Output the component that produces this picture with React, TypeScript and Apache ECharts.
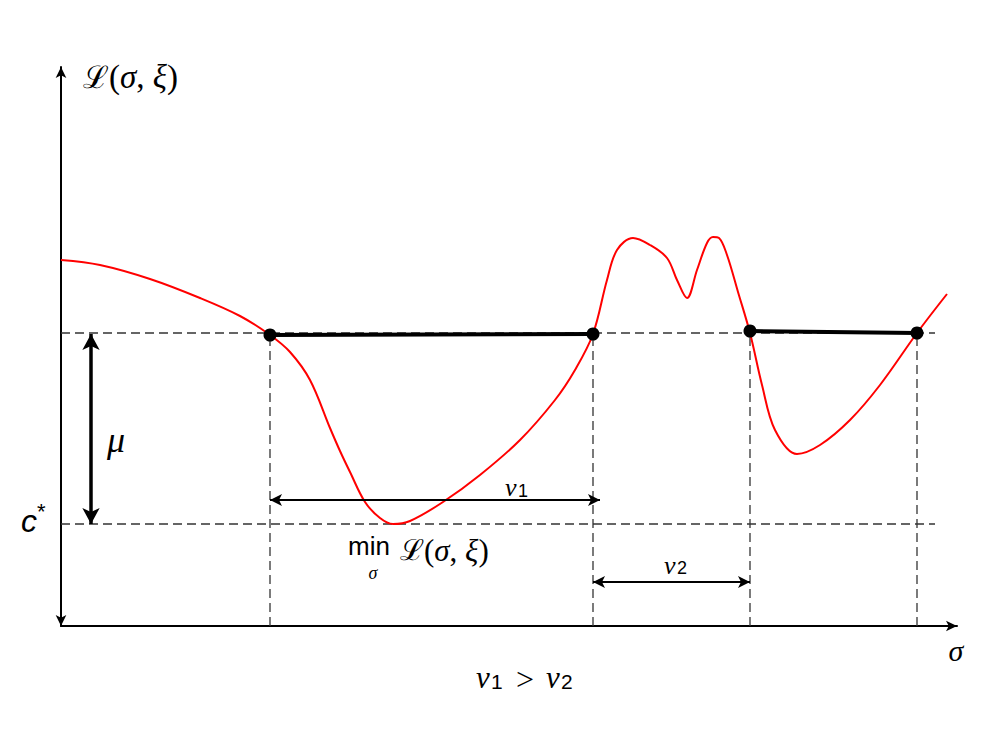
import React, { useEffect, useRef } from 'react';
import * as echarts from 'echarts';

// Data units: sigma along the horizontal axis, loss along the vertical axis
const curveSigma = [0, 39, 89, 139, 179, 209, 229, 249, 269, 279, 289, 304, 319, 332, 349, 382, 419, 459, 494, 514, 532, 546, 556, 572, 589, 606, 616, 626, 636, 646, 652, 658, 666, 677, 689, 701, 714, 736, 759, 789, 819, 856, 886];
const curveLoss = [366, 361, 347, 328, 310, 291, 274, 246, 198, 175, 154, 124, 108, 102, 105, 124, 151, 186, 226, 256, 292, 346, 376, 388, 381, 368, 346, 328, 356, 383, 389, 388, 371, 334, 293, 241, 196, 172, 181, 206, 241, 293, 332];

const levelUpper = 293;
const levelMin = 102;
const levelEnd = 874;
const crossingsSigma = [209, 532, 689, 856];
const crossingsLoss = [291, 292, 295, 293];
const muSigma = 30;
const nu1Span = [209, 539];
const nu1Loss = 126;
const nu2Span = [532, 689];
const nu2Loss = 44;
const xMax = 896;
const yMax = 559;

const serif = 'Liberation Serif, DejaVu Serif, serif';
const sans = 'Liberation Sans, Arial, sans-serif';

function txt(text: string, x: number, y: number, fontSize: number, family: string, italic: boolean, align = 'left') {
  return {
    type: 'text',
    x,
    y,
    z: 100,
    style: {
      text,
      fontSize,
      fontFamily: family,
      fontStyle: italic ? 'italic' : 'normal',
      fill: '#000',
      align,
      verticalAlign: 'middle',
    },
  };
}

function lossText(x: number, y: number, size: number) {
  return {
    type: 'text',
    x,
    y,
    z: 100,
    style: {
      text: '{L|ℒ}{p|(}{i|σ}{p|, }{i|ξ}{p|)}',
      fill: '#000',
      align: 'left',
      verticalAlign: 'middle',
      rich: {
        L: { fontFamily: 'DejaVu Serif, serif', fontSize: size - 2, fill: '#000' },
        p: { fontFamily: serif, fontSize: size, fill: '#000' },
        i: { fontFamily: serif, fontSize: size, fontStyle: 'italic', fill: '#000' },
      },
    },
  };
}

export default function App() {
  const ref = useRef<HTMLDivElement>(null);
  useEffect(() => {
    if (!ref.current) return;
    const chart = echarts.init(ref.current, null, { renderer: 'svg' });

    const dashed = { color: '#333', width: 1.3, type: [9, 5] as any };
    const dashSeries: any[] = [];
    dashSeries.push({ type: 'line', data: [[0, levelUpper], [levelEnd, levelUpper]], symbol: 'none', lineStyle: dashed, silent: true, z: 1 });
    dashSeries.push({ type: 'line', data: [[0, levelMin], [levelEnd, levelMin]], symbol: 'none', lineStyle: dashed, silent: true, z: 1 });
    crossingsSigma.forEach((s, i) => {
      dashSeries.push({ type: 'line', data: [[s, 0], [s, crossingsLoss[i]]], symbol: 'none', lineStyle: dashed, silent: true, z: 1 });
    });

    const segment = (a: number, b: number) => ({
      type: 'line',
      data: [[crossingsSigma[a], crossingsLoss[a]], [crossingsSigma[b], crossingsLoss[b]]],
      symbol: 'circle',
      symbolSize: 13,
      itemStyle: { color: '#000' },
      lineStyle: { color: '#000', width: 4 },
      z: 5,
      silent: true,
    });

    const arrowSeries = {
      type: 'line',
      data: [],
      silent: true,
      markLine: {
        silent: true,
        symbol: ['arrow', 'arrow'],
        symbolSize: [9, 12],
        label: { show: false },
        lineStyle: { color: '#000', width: 2, type: 'solid' },
        data: [
          [
            { coord: [muSigma, crossingsLoss[1]], symbolSize: [13, 16], lineStyle: { width: 3.5, color: '#000', type: 'solid' } },
            { coord: [muSigma, levelMin], symbolSize: [13, 16] },
          ],
          [{ coord: [nu1Span[0], nu1Loss] }, { coord: [nu1Span[1], nu1Loss] }],
          [{ coord: [nu2Span[0], nu2Loss] }, { coord: [nu2Span[1], nu2Loss] }],
        ],
      },
    };

    chart.setOption({
      animation: false,
      grid: { left: 61, right: 43, top: 67, bottom: 124, outerBoundsMode: 'none', containLabel: false },
      xAxis: {
        type: 'value',
        min: 0,
        max: xMax,
        axisLine: { show: true, symbol: ['none', 'arrow'], symbolSize: [8, 11], lineStyle: { color: '#000', width: 2 }, onZero: false },
        axisTick: { show: false },
        axisLabel: { show: false },
        splitLine: { show: false },
      },
      yAxis: {
        type: 'value',
        min: 0,
        max: yMax,
        axisLine: { show: true, symbol: ['arrow', 'arrow'], symbolSize: [8, 11], lineStyle: { color: '#000', width: 2 }, onZero: false },
        axisTick: { show: false },
        axisLabel: { show: false },
        splitLine: { show: false },
      },
      series: [
        ...dashSeries,
        {
          type: 'line',
          data: curveSigma.map((s, i) => [s, curveLoss[i]]),
          smooth: 0.35,
          symbol: 'none',
          lineStyle: { color: '#ff0000', width: 2 },
          z: 3,
          silent: true,
        },
        segment(0, 1),
        segment(2, 3),
        arrowSeries,
      ],
      graphic: [
        lossText(83, 77, 33),
        txt('μ', 116, 440, 36, serif, true, 'center'),
        txt('c', 21, 521, 32, sans, true),
        txt('*', 37, 511, 22, sans, false),
        txt('ν', 505, 487, 26, serif, true),
        txt('1', 518, 491, 18, sans, false),
        txt('ν', 664, 565, 26, serif, true),
        txt('2', 677, 568, 18, sans, false),
        txt('min', 348, 546, 26, sans, false),
        txt('σ', 373, 573, 18, serif, true, 'center'),
        lossText(400, 550, 31),
        txt('σ', 956, 650, 30, serif, true, 'center'),
        txt('ν', 476, 677, 31, serif, true),
        txt('1', 491, 681, 21, sans, false),
        txt('>', 516, 679, 32, serif, false),
        txt('ν', 546, 677, 31, serif, true),
        txt('2', 561, 681, 21, sans, false),
      ],
    });
    return () => chart.dispose();
  }, []);
  return <div ref={ref} style={{ position: 'fixed', left: 0, top: 0, width: 1000, height: 750, background: '#fff' }} />;
}
